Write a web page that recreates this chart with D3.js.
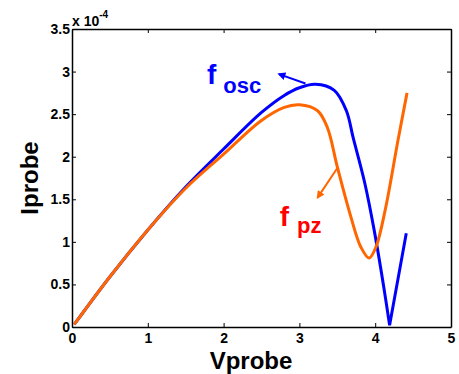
<!DOCTYPE html>
<html>
<head>
<meta charset="utf-8">
<script src="https://cdn.jsdelivr.net/npm/d3@7"></script>
<style>
  body { margin: 0; background: #fff; }
  text { font-family: "Liberation Sans", Arial, sans-serif; font-weight: bold; }
</style>
</head>
<body>
<div id="chart"></div>
<script>
// values, current in units of 1e-4
const v_osc = [0.03, 0.5, 1.0, 1.5, 2.0, 2.5, 2.8, 3.0, 3.21, 3.46, 3.62, 3.71, 3.86, 3.99, 4.12, 4.19, 4.41];
const i_osc = [0.03, 0.59, 1.14, 1.645, 2.09, 2.52, 2.72, 2.81, 2.85, 2.78, 2.54, 2.22, 1.70, 1.12, 0.43, 0.02, 1.10];
const v_pz = [0.03, 0.5, 1.0, 1.5, 2.0, 2.49, 2.8, 3.0, 3.24, 3.37, 3.50, 3.68, 3.81, 3.92, 4.01, 4.14, 4.30, 4.42];
const i_pz = [0.03, 0.59, 1.14, 1.63, 2.03, 2.42, 2.58, 2.61, 2.54, 2.34, 1.88, 1.29, 0.94, 0.81, 0.94, 1.41, 2.19, 2.75];
const x_ticks = [0, 1, 2, 3, 4, 5];
const y_ticks = [0, 0.5, 1, 1.5, 2, 2.5, 3, 3.5];

const W = 459, H = 374;
const ax_left = 72, ax_right = 451, ax_top = 29, ax_bottom = 327;

const svg = d3.select("#chart").append("svg")
    .attr("width", W)
    .attr("height", H);

const x = d3.scaleLinear().domain([0, 5]).range([ax_left, ax_right]);
const y = d3.scaleLinear().domain([0, 3.5]).range([ax_bottom, ax_top]);

//axes with inward ticks on all four sides
function styleAxis(g) {
    g.select(".domain").attr("stroke-width", 1.5);
    g.selectAll(".tick line").attr("stroke-width", 1);
    g.selectAll("text")
        .attr("font-size", 14)
        .attr("font-family", "Liberation Sans, Arial, sans-serif")
        .attr("font-weight", "bold")
        .attr("fill", "#000");
}
svg.append("g").attr("transform", `translate(0,${ax_bottom})`)
    .call(d3.axisBottom(x).tickValues(x_ticks).tickFormat(d3.format("")).tickSizeInner(-4).tickSizeOuter(0).tickPadding(6))
    .call(styleAxis);
svg.append("g").attr("transform", `translate(0,${ax_top})`)
    .call(d3.axisTop(x).tickValues(x_ticks).tickFormat("").tickSizeInner(-4).tickSizeOuter(0))
    .call(styleAxis);
svg.append("g").attr("transform", `translate(${ax_left},0)`)
    .call(d3.axisLeft(y).tickValues(y_ticks).tickFormat(d3.format("")).tickSizeInner(-4).tickSizeOuter(0).tickPadding(2))
    .call(styleAxis);
svg.append("g").attr("transform", `translate(${ax_right},0)`)
    .call(d3.axisRight(y).tickValues(y_ticks).tickFormat("").tickSizeInner(-4).tickSizeOuter(0))
    .call(styleAxis);

//exponent label
const expo = svg.append("text")
    .attr("x", ax_left)
    .attr("y", 26)
    .attr("font-size", 14);
expo.append("tspan").text("x 10");
expo.append("tspan").attr("font-size", 10).attr("dy", -8).text("-4");

//axis titles
svg.append("text")
    .attr("x", 251)
    .attr("y", 369)
    .attr("text-anchor", "middle")
    .attr("font-size", 24)
    .text("Vprobe");
svg.append("text")
    .attr("transform", "translate(38,178) rotate(-90)")
    .attr("text-anchor", "middle")
    .attr("font-size", 24)
    .text("Iprobe");

//curves
const line = d3.line()
    .x(d => x(d[0]))
    .y(d => y(d[1]))
    .curve(d3.curveCatmullRom.alpha(0.5));
const straight = d3.line()
    .x(d => x(d[0]))
    .y(d => y(d[1]));

//blue curve has a sharp dip, so draw the part after the minimum straight
const osc = d3.zip(v_osc, i_osc);
const k = d3.minIndex(i_osc.slice(1)) + 1;
svg.append("path")
    .attr("d", line(osc.slice(0, k + 1)) + straight(osc.slice(k)).replace("M", "L"))
    .attr("fill", "none")
    .attr("stroke", "#0000ff")
    .attr("stroke-width", 3)
    .attr("stroke-linejoin", "miter");
svg.append("path")
    .attr("d", line(d3.zip(v_pz, i_pz)))
    .attr("fill", "none")
    .attr("stroke", "#ff6600")
    .attr("stroke-width", 3);

//arrow heads
const defs = svg.append("defs");
[["arrBlue", "#0000ff"], ["arrOrange", "#ff6600"]].forEach(a => {
    defs.append("marker")
        .attr("id", a[0])
        .attr("viewBox", "0 0 10 10")
        .attr("refX", 8)
        .attr("refY", 5)
        .attr("markerWidth", 4)
        .attr("markerHeight", 4)
        .attr("orient", "auto")
        .append("path")
        .attr("d", "M0,0 L10,5 L0,10 z")
        .attr("fill", a[1]);
});

//annotations
svg.append("line")
    .attr("x1", x(3.08)).attr("y1", y(2.86))
    .attr("x2", x(2.73)).attr("y2", y(2.97))
    .attr("stroke", "#0000ff")
    .attr("stroke-width", 2)
    .attr("marker-end", "url(#arrBlue)");
svg.append("line")
    .attr("x1", x(3.51)).attr("y1", y(1.88))
    .attr("x2", x(3.24)).attr("y2", y(1.52))
    .attr("stroke", "#ff6600")
    .attr("stroke-width", 2)
    .attr("marker-end", "url(#arrOrange)");

const t1 = svg.append("text")
    .attr("x", x(1.78))
    .attr("y", y(2.85))
    .attr("fill", "#0000ff")
    .attr("font-size", 28)
    .text("f");
t1.append("tspan").attr("font-size", 22).attr("dx", 7).attr("dy", 9).text("osc");

const t2 = svg.append("text")
    .attr("x", x(2.74))
    .attr("y", y(1.19))
    .attr("fill", "#ff0000")
    .attr("font-size", 28)
    .text("f");
t2.append("tspan").attr("font-size", 22).attr("dx", 8).attr("dy", 7).text("pz");
</script>
</body>
</html>
